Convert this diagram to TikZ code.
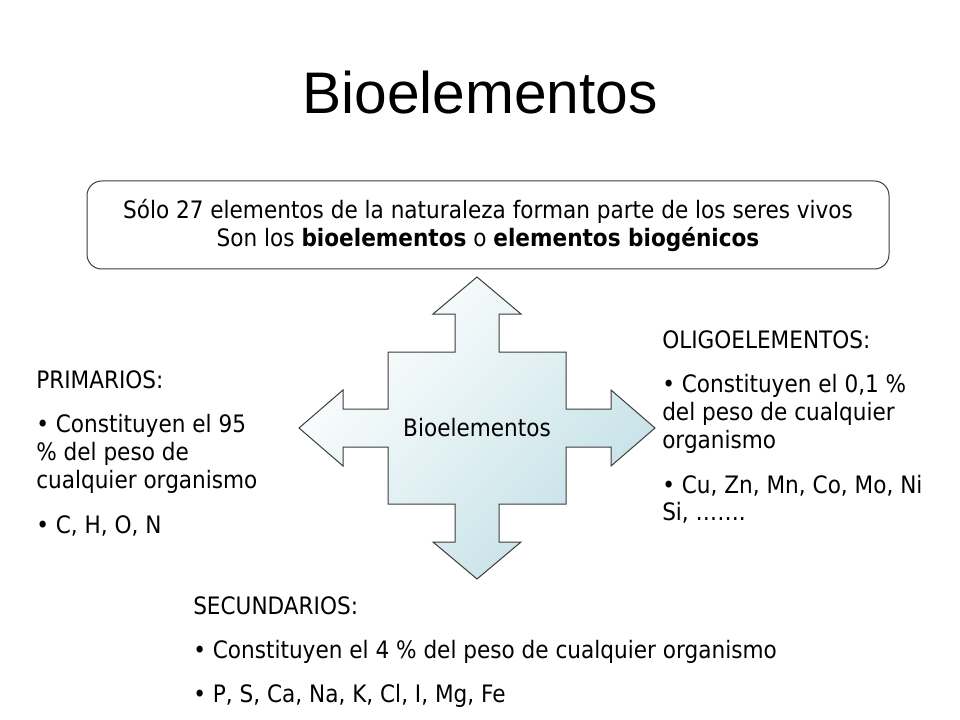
\documentclass[tikz,border=0pt]{standalone}
\usepackage{fontspec}
\setmainfont{DejaVu Sans}[FakeStretch=0.9]
\newfontfamily\titlefont{Liberation Sans}
\definecolor{crossteal}{RGB}{194,224,230}
\definecolor{edgegray}{RGB}{60,60,60}

\begin{document}
\begin{tikzpicture}[x=0.75pt,y=-0.75pt,
  txt/.style={anchor=base west,inner sep=0pt,font=\fontsize{18}{21}\selectfont}]
  \useasboundingbox (0,0) rectangle (960,720);

  % Add the title
  \node[anchor=base,font=\titlefont\fontsize{44}{52}\selectfont] (title) at (480,114) {Bioelementos};

  % Draw the rounded box with the introduction
  \node[draw=edgegray,line width=0.75pt,rounded corners=11pt,minimum width=601.5pt,minimum height=66pt,
    align=center,font=\fontsize{18}{21}\selectfont] (intro) at (488,225)
    {Sólo 27 elementos de la naturaleza forman parte de los seres vivos\\
     Son los \textbf{bioelementos} o \textbf{elementos biogénicos}};

  % Draw the cross of four arrows
  \draw[edgegray,line width=0.75pt,top color=white,bottom color=crossteal,shading angle=45]
    (477,277) -- (521,314) -- (499,314) -- (499,352) -- (566,352) -- (566,409)
    -- (611,409) -- (611,390) -- (655,428) -- (611,466) -- (611,447) -- (566,447)
    -- (566,504) -- (499,504) -- (499,542) -- (521,542) -- (477,579) -- (433,542)
    -- (455,542) -- (455,504) -- (388,504) -- (388,447) -- (343,447) -- (343,466)
    -- (299,428) -- (343,390) -- (343,409) -- (388,409) -- (388,352) -- (455,352)
    -- (455,314) -- (433,314) -- cycle;
  % Add the text in the middle of the cross
  \node[font=\fontsize{18}{21}\selectfont] (centre) at (477,428) {Bioelementos};

  % Add the text on the left (primarios)
  \node[txt] (prim0) at (36,388) {PRIMARIOS:};
  \node[txt] (prim1) at (36,432) {• Constituyen el 95};
  \node[txt] (prim2) at (36,460) {\% del peso de};
  \node[txt] (prim3) at (36,488) {cualquier organismo};
  \node[txt] (prim4) at (36,533) {• C, H, O, N};

  % Add the text on the right (oligoelementos)
  \node[txt] (oligo0) at (662,348) {OLIGOELEMENTOS:};
  \node[txt] (oligo1) at (662,392) {• Constituyen el 0,1 \%};
  \node[txt] (oligo2) at (662,420) {del peso de cualquier};
  \node[txt] (oligo3) at (662,448) {organismo};
  \node[txt] (oligo4) at (662,493) {• Cu, Zn, Mn, Co, Mo, Ni};
  \node[txt] (oligo5) at (662,520) {Si, …….};

  % Add the text below (secundarios)
  \node[txt] (secu0) at (193,614) {SECUNDARIOS:};
  \node[txt] (secu1) at (193,658) {• Constituyen el 4 \% del peso de cualquier organismo};
  \node[txt] (secu2) at (193,702) {• P, S, Ca, Na, K, Cl, I, Mg, Fe};
\end{tikzpicture}
\end{document}
